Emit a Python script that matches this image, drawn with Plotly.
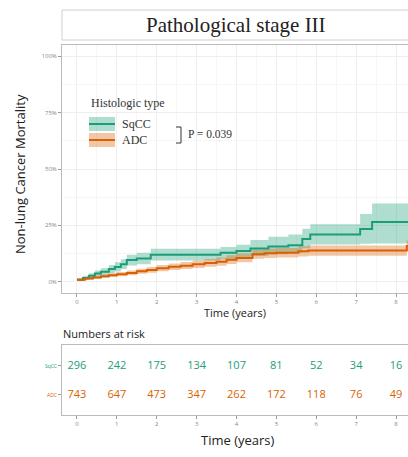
import plotly.graph_objects as go

# ---------------- data ----------------
sqcc_t = [0, 0.15, 0.3, 0.45, 0.6, 0.8, 0.95, 1.1, 1.25, 1.5, 1.85, 3.6, 4.0, 4.35, 4.8, 5.3, 5.65, 5.85, 7.1, 7.4, 8.4]
sqcc_v = [0.9, 1.6, 2.6, 3.6, 4.4, 5.6, 6.5, 7.8, 9.6, 10.3, 12.0, 12.8, 13.6, 14.7, 15.6, 16.2, 19.0, 21.0, 23.4, 26.5, 26.5]
sqcc_hi = [1.5, 2.6, 3.8, 5.0, 6.0, 7.4, 8.6, 10.0, 12.0, 12.8, 14.6, 15.4, 16.4, 18.5, 20.0, 21.0, 23.5, 25.5, 30.0, 34.7, 34.7]
sqcc_lo = [0.4, 0.8, 1.5, 2.3, 2.9, 3.8, 4.5, 5.7, 7.2, 7.8, 9.4, 10.2, 10.9, 11.5, 12.2, 12.7, 14.8, 16.5, 16.8, 17.0, 17.0]

adc_t = [0, 0.2, 0.4, 0.6, 0.8, 1.0, 1.25, 1.5, 1.75, 2.0, 2.3, 2.6, 2.9, 3.2, 3.5, 3.75, 4.0, 4.4, 4.7, 5.0, 5.55, 5.8, 8.27, 8.4]
adc_v = [0.9, 1.4, 1.9, 2.4, 2.9, 3.3, 3.9, 4.6, 5.2, 6.0, 6.6, 7.1, 7.7, 8.3, 8.9, 9.8, 10.5, 12.2, 12.6, 12.9, 13.5, 13.8, 15.9, 15.9]
adc_hi = [1.3, 2.0, 2.6, 3.2, 3.8, 4.3, 5.0, 5.8, 6.5, 7.4, 8.1, 8.7, 9.4, 10.1, 10.8, 11.7, 12.5, 14.3, 14.7, 15.0, 15.7, 16.1, 18.3, 18.3]
adc_lo = [0.5, 0.9, 1.3, 1.7, 2.1, 2.4, 2.9, 3.5, 4.0, 4.7, 5.2, 5.6, 6.1, 6.6, 7.1, 7.9, 8.6, 10.2, 10.5, 10.8, 11.2, 11.5, 13.6, 13.6]

risk_years = [0, 1, 2, 3, 4, 5, 6, 7, 8]
risk_sqcc = [296, 242, 175, 134, 107, 81, 52, 34, 16]
risk_adc = [743, 647, 473, 347, 262, 172, 118, 76, 49]

y_ticks = [0, 25, 50, 75, 100]
y_tick_labels = ["0%", "25%", "50%", "75%", "100%"]

GREEN = "#1B9E77"
ORANGE = "#D95F02"
GREEN_FILL = "rgba(27,158,119,0.35)"
ORANGE_FILL = "rgba(217,95,2,0.35)"

W, H = 408, 457
def fx(p):
    return p / W
def fy(p):
    return 1 - p / H

fig = go.Figure()

# confidence bands
for t, lo, hi, fill in [(sqcc_t, sqcc_lo, sqcc_hi, GREEN_FILL), (adc_t, adc_lo, adc_hi, ORANGE_FILL)]:
    fig.add_trace(go.Scatter(x=t, y=lo, mode="lines", line=dict(width=0, shape="hv"),
                             showlegend=False, hoverinfo="skip", xaxis="x", yaxis="y"))
    fig.add_trace(go.Scatter(x=t, y=hi, mode="lines", line=dict(width=0, shape="hv"),
                             fill="tonexty", fillcolor=fill, showlegend=False,
                             hoverinfo="skip", xaxis="x", yaxis="y"))

fig.add_trace(go.Scatter(x=sqcc_t, y=sqcc_v, mode="lines", line=dict(color=GREEN, width=2, shape="hv"),
                         name="SqCC", showlegend=False, xaxis="x", yaxis="y"))
fig.add_trace(go.Scatter(x=adc_t, y=adc_v, mode="lines", line=dict(color=ORANGE, width=2, shape="hv"),
                         name="ADC", showlegend=False, xaxis="x", yaxis="y"))

# risk table
fig.add_trace(go.Scatter(x=risk_years, y=[2] * len(risk_years), mode="text",
                         text=[str(v) for v in risk_sqcc], cliponaxis=False,
                         textfont=dict(color=GREEN, size=11, family="Open Sans"),
                         showlegend=False, xaxis="x2", yaxis="y2"))
fig.add_trace(go.Scatter(x=risk_years, y=[1] * len(risk_years), mode="text",
                         text=[str(v) for v in risk_adc], cliponaxis=False,
                         textfont=dict(color=ORANGE, size=11, family="Open Sans"),
                         showlegend=False, xaxis="x2", yaxis="y2"))

grid = "#efefef"
xr = [-0.375, 8.3]

fig.update_layout(
    width=W, height=H,
    margin=dict(l=0, r=0, t=0, b=0),
    paper_bgcolor="white", plot_bgcolor="white",
    showlegend=False,
    xaxis=dict(domain=[fx(62), 1], range=xr, tickvals=risk_years,
               tickfont=dict(size=6, color="#888", family="Open Sans"),
               ticks="outside", ticklen=3, tickcolor="#999",
               showgrid=True, gridcolor=grid, gridwidth=1,
               minor=dict(dtick=0.5, showgrid=True, gridcolor="#f6f6f6", tick0=0),
               showline=True, linecolor="#bbb", mirror=True, zeroline=False,
               anchor="y", automargin=False),
    yaxis=dict(domain=[fy(293), fy(45)], range=[-5, 105], tickvals=y_ticks, ticktext=y_tick_labels,
               tickfont=dict(size=6, color="#888", family="Open Sans"),
               ticks="outside", ticklen=3, tickcolor="#999",
               showgrid=True, gridcolor=grid, gridwidth=1,
               minor=dict(dtick=12.5, showgrid=True, gridcolor="#f6f6f6", tick0=0),
               showline=True, linecolor="#bbb", zeroline=False,
               anchor="x", automargin=False),
    xaxis2=dict(domain=[fx(62), 1], range=xr, tickvals=risk_years,
                tickfont=dict(size=6, color="#888", family="Open Sans"),
                ticks="outside", ticklen=3, tickcolor="#999",
                showgrid=False, showline=True, linecolor="#bbb", mirror=True, zeroline=False,
                anchor="y2", automargin=False),
    yaxis2=dict(domain=[fy(415), fy(345)], range=[0.31, 2.72], tickvals=[2, 1],
                ticktext=["<span style='color:%s'>SqCC</span>" % GREEN,
                          "<span style='color:%s'>ADC</span>" % ORANGE],
                tickfont=dict(size=5, family="Open Sans"),
                ticks="outside", ticklen=3, tickcolor="#999",
                showgrid=False, showline=True, linecolor="#bbb", zeroline=False,
                anchor="x2", automargin=False),
)

# facet strip
fig.add_shape(type="rect", xref="paper", yref="paper", x0=fx(62), x1=fx(412), y0=fy(40), y1=fy(10),
              line=dict(color="#d0d0d0", width=1), fillcolor="white", layer="below")

ann = []
ann.append(dict(text="Pathological stage III", x=fx(236), y=fy(25), xref="paper", yref="paper",
                showarrow=False, font=dict(family="Liberation Serif", size=21, color="#222"),
                xanchor="center", yanchor="middle"))
ann.append(dict(text="Non-lung Cancer Mortality", x=fx(20), y=fy(174), xref="paper", yref="paper",
                showarrow=False, textangle=-90, font=dict(family="Open Sans", size=13, color="#222"),
                xanchor="center", yanchor="middle"))
ann.append(dict(text="Time (years)", x=fx(235), y=fy(312), xref="paper", yref="paper",
                showarrow=False, font=dict(family="Open Sans", size=11, color="#222"),
                xanchor="center", yanchor="middle"))
ann.append(dict(text="Numbers at risk", x=fx(61), y=fy(333), xref="paper", yref="paper",
                showarrow=False, font=dict(family="Open Sans", size=11, color="#222"),
                xanchor="left", yanchor="middle"))
ann.append(dict(text="Time (years)", x=fx(238), y=fy(440), xref="paper", yref="paper",
                showarrow=False, font=dict(family="Open Sans", size=13, color="#222"),
                xanchor="center", yanchor="middle"))
# legend
ann.append(dict(text="Histologic type", x=fx(89), y=fy(103), xref="paper", yref="paper",
                showarrow=False, font=dict(family="Liberation Serif", size=12, color="#333"),
                xanchor="left", yanchor="middle"))
ann.append(dict(text="SqCC", x=fx(120), y=fy(124), xref="paper", yref="paper",
                showarrow=False, font=dict(family="Liberation Serif", size=12, color="#333"),
                xanchor="left", yanchor="middle"))
ann.append(dict(text="ADC", x=fx(120), y=fy(140), xref="paper", yref="paper",
                showarrow=False, font=dict(family="Liberation Serif", size=12, color="#333"),
                xanchor="left", yanchor="middle"))
ann.append(dict(text="P = 0.039", x=fx(186), y=fy(134), xref="paper", yref="paper",
                showarrow=False, font=dict(family="Liberation Serif", size=11.5, color="#333"),
                xanchor="left", yanchor="middle"))
fig.update_layout(annotations=ann)

# legend keys
for (y0, y1, fill, col) in [(117, 131, GREEN_FILL, GREEN), (133, 147, ORANGE_FILL, ORANGE)]:
    fig.add_shape(type="rect", xref="paper", yref="paper", x0=fx(89), x1=fx(115), y0=fy(y1), y1=fy(y0),
                  line=dict(width=0), fillcolor=fill)
    fig.add_shape(type="line", xref="paper", yref="paper", x0=fx(89), x1=fx(115),
                  y0=fy((y0 + y1) / 2), y1=fy((y0 + y1) / 2), line=dict(color=col, width=2))
# bracket
for seg in [((176, 127), (181, 127)), ((181, 127), (181, 143)), ((176, 143), (181, 143))]:
    (a, b), (c, d) = seg
    fig.add_shape(type="line", xref="paper", yref="paper", x0=fx(a), y0=fy(b), x1=fx(c), y1=fy(d),
                  line=dict(color="#333", width=1))

# remove the default 8px page margin so the 408x457 figure fills the window exactly
fig.write_html("out.html",
               config={"displayModeBar": False},
               post_script="document.body.style.margin='0';document.body.style.overflow='hidden';")
